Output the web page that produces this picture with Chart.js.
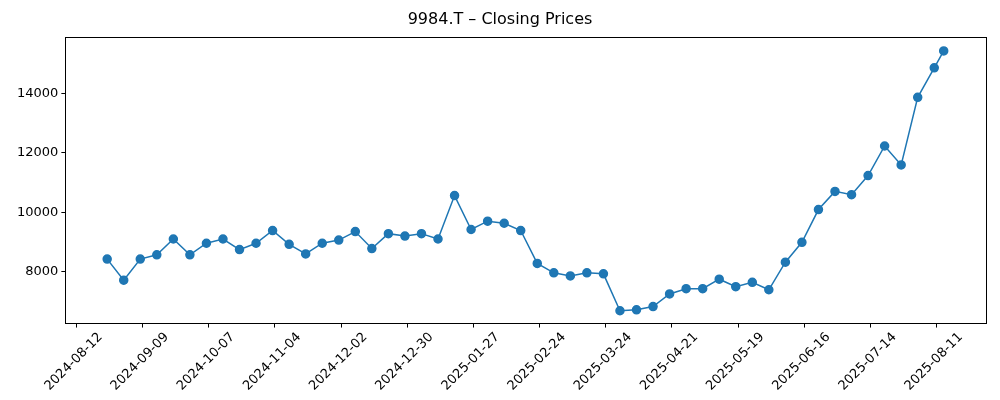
<!DOCTYPE html>
<html><head><script src="https://cdn.jsdelivr.net/npm/chart.js@4"></script>
<style>body{margin:0;background:#fff}#w{width:1000px;height:400px}</style></head>
<body><div id="w"><canvas id="c"></canvas></div>
<script>
const startDate = "2024-08-12";
const dayOffsets = [13,20,27,34,41,48,55,62,69,76,83,90,97,104,111,118,125,132,139,146,153,160,167,174,181,188,195,202,209,216,223,230,237,244,251,258,265,272,279,286,293,300,307,314,321,328,335,342,349,356,363,367];
const closes = [8425,7716,8425,8568,9100,8568,8958,9100,8745,8958,9385,8920,8600,8958,9065,9350,8780,9280,9200,9280,9100,10560,9420,9700,9630,9385,8280,7965,7860,7965,7930,6690,6720,6830,7255,7430,7430,7750,7500,7645,7395,8320,8990,10090,10700,10590,11230,12225,11590,13860,14850,15420];
const yTicks = [8000,10000,12000,14000];
const xTickDays = [0,28,56,84,112,140,168,196,224,252,280,308,336,364];
const base = new Date(startDate+"T00:00:00Z");
function fmt(d){const t=new Date(base.getTime()+d*86400000);return t.toISOString().slice(0,10);}
const blue="#1f77b4";
const boxPlugin={id:'box',afterDraw(c){const a=c.chartArea,x=c.ctx;x.save();x.strokeStyle='#000';x.lineWidth=1;x.strokeRect(Math.round(a.left)+0.5,Math.round(a.top)+0.5,Math.round(a.right-a.left),Math.round(a.bottom-a.top));x.restore();}};
new Chart(document.getElementById('c'),{type:'line',plugins:[boxPlugin],
data:{datasets:[{data:dayOffsets.map((d,i)=>({x:d,y:closes[i]})),borderColor:blue,backgroundColor:blue,borderWidth:1.5,pointRadius:4,pointHoverRadius:4,tension:0}]},
options:{responsive:true,maintainAspectRatio:false,animation:false,
layout:{padding:{left:14,right:14,top:4,bottom:4}},
plugins:{legend:{display:false},tooltip:{enabled:false},
title:{display:true,text:'9984.T – Closing Prices',color:'#000',font:{family:'DejaVu Sans',size:16,weight:'normal'},padding:{top:6,bottom:8}}},
scales:{
x:{type:'linear',min:-4.7,max:384.9,grid:{display:true,drawOnChartArea:false,tickLength:4,color:'#000'},border:{color:'#000'},
afterBuildTicks:a=>{a.ticks=xTickDays.map(v=>({value:v}));},
ticks:{color:'#000',font:{family:'DejaVu Sans',size:13},maxRotation:45,minRotation:45,labelOffset:24,padding:2,callback:v=>fmt(v)}},
y:{min:6260,max:15880,grid:{display:true,drawOnChartArea:false,tickLength:4,color:'#000'},border:{color:'#000'},
afterBuildTicks:a=>{a.ticks=yTicks.map(v=>({value:v}));},
ticks:{color:'#000',font:{family:'DejaVu Sans',size:13},callback:v=>String(v)}}}}});
</script></body></html>
